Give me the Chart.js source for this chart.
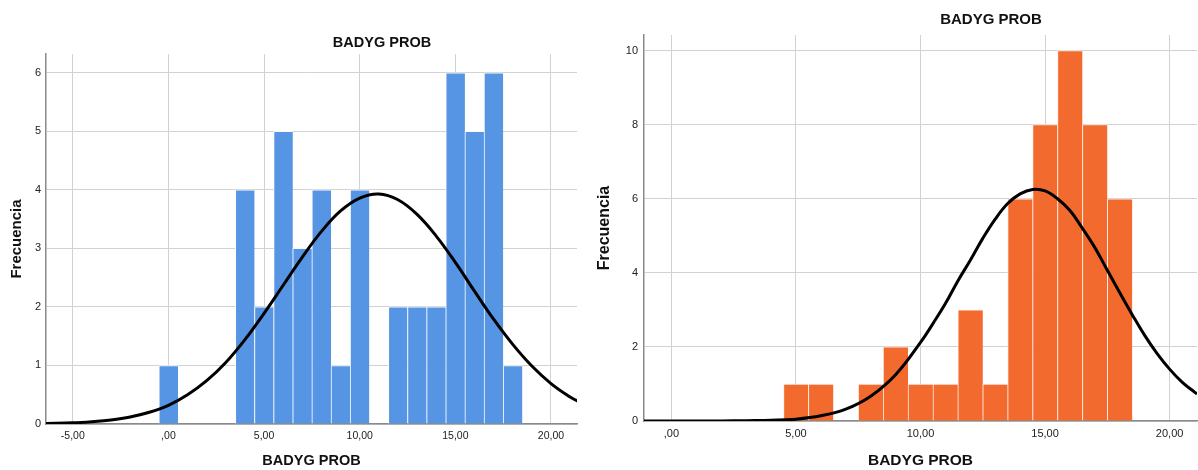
<!DOCTYPE html>
<html>
<head>
<meta charset="utf-8">
<script src="https://cdn.jsdelivr.net/npm/chart.js@4.4.1/dist/chart.umd.min.js"></script>
<style>
html, body { margin: 0; padding: 0; background: #fff; }
#lienzo { position: relative; width: 1198px; height: 470px; overflow: hidden; font-family: "Liberation Sans", Arial, sans-serif; }
#lienzo canvas { position: absolute; top: 0; }
.titulo { position: absolute; transform: translate(-50%, -50%); font-weight: bold; color: #111; white-space: nowrap; line-height: 1; }
</style>
</head>
<body>
<div id="lienzo">
    <canvas id="graficoIzq" width="598" height="470" style="left:0"></canvas>
    <canvas id="graficoDer" width="608" height="470" style="left:590px"></canvas>
    <div class="titulo" id="tituloIzq" style="left:382px;top:42px;font-size:14.5px"></div>
    <div class="titulo" id="tituloDer" style="left:991px;top:18px;font-size:15px"></div>
</div>
<script>
const tituloGrafico = 'BADYG PROB';
const tituloX = 'BADYG PROB';
const tituloY = 'Frecuencia';

// Histograma izquierdo (azul)
const izqIntervalos = [0, 4, 5, 6, 7, 8, 9, 10, 12, 13, 14, 15, 16, 17, 18];
const izqFrecuencias = [1, 4, 2, 5, 3, 4, 1, 4, 2, 2, 2, 6, 5, 6, 1];
const izqCurvaX = [-6.4, -5, -4, -3, -2, -1, 0, 1, 2, 3, 4, 5, 6, 7, 8, 9, 10, 11, 12, 13, 14, 15, 16, 17, 18, 19, 20, 21, 21.4];
const izqCurvaY = [0.01, 0.02, 0.04, 0.07, 0.12, 0.2, 0.32, 0.5, 0.74, 1.05, 1.44, 1.89, 2.37, 2.85, 3.29, 3.64, 3.86, 3.93, 3.83, 3.58, 3.21, 2.76, 2.27, 1.79, 1.36, 0.99, 0.69, 0.46, 0.39];
const izqTicksX = [-5, 0, 5, 10, 15, 20];
const izqEtiquetasX = ['-5,00', ',00', '5,00', '10,00', '15,00', '20,00'];
const izqTicksY = [0, 1, 2, 3, 4, 5, 6];
const izqEtiquetasY = ['0', '1', '2', '3', '4', '5', '6'];

// Histograma derecho (naranja)
const derIntervalos = [5, 6, 8, 9, 10, 11, 12, 13, 14, 15, 16, 17, 18];
const derFrecuencias = [1, 1, 1, 2, 1, 1, 3, 1, 6, 8, 10, 8, 6];
const derCurvaX = [-1.1, 0, 1, 2, 3, 4, 5, 6, 7, 8, 9, 10, 10.5, 11, 11.5, 12, 12.5, 13, 13.5, 14, 14.5, 15, 15.5, 16, 16.5, 17, 17.5, 18, 18.5, 19, 19.5, 20, 20.5, 21, 21.1];
const derCurvaY = [0, 0, 0, 0, 0.01, 0.02, 0.05, 0.14, 0.32, 0.67, 1.25, 2.12, 2.63, 3.17, 3.78, 4.34, 4.93, 5.45, 5.87, 6.13, 6.25, 6.21, 6.0, 5.68, 5.2, 4.68, 4.07, 3.46, 2.87, 2.31, 1.82, 1.4, 1.05, 0.78, 0.73];
const derTicksX = [0, 5, 10, 15, 20];
const derEtiquetasX = [',00', '5,00', '10,00', '15,00', '20,00'];
const derTicksY = [0, 2, 4, 6, 8, 10];
const derEtiquetasY = ['0', '2', '4', '6', '8', '10'];

function crearHistograma(id, d) {
    const ctx = document.getElementById(id).getContext('2d');
    return new Chart(ctx, {
        type: 'bar',
        data: {
            datasets: [
                {
                    type: 'line',
                    data: d.curvaX.map((x, i) => ({ x: x, y: d.curvaY[i] })),
                    borderColor: '#000',
                    borderWidth: 3,
                    pointRadius: 0,
                    tension: 0.4,
                    fill: false,
                    order: 0
                },
                {
                    type: 'bar',
                    data: d.intervalos.map((x, i) => ({ x: x, y: d.frecuencias[i] })),
                    backgroundColor: d.color,
                    borderColor: d.borde,
                    borderWidth: { top: 1, left: 1, right: 0, bottom: 0 },
                    borderSkipped: false,
                    barPercentage: 1,
                    categoryPercentage: 1,
                    order: 1
                }
            ]
        },
        options: {
            responsive: false,
            animation: false,
            events: [],
            layout: { padding: { top: d.arriba, right: d.derecha, left: 0, bottom: 0 } },
            plugins: { legend: { display: false }, tooltip: { enabled: false } },
            scales: {
                x: {
                    type: 'linear',
                    min: d.minX,
                    max: d.maxX,
                    offset: false,
                    grid: { offset: false, color: '#d2d2d2', lineWidth: 1, drawTicks: false },
                    border: { color: '#8a8a8a', width: 1.5 },
                    afterBuildTicks: s => { s.ticks = d.ticksX.map(v => ({ value: v })); },
                    ticks: {
                        autoSkip: false, maxRotation: 0, padding: 6, color: '#222',
                        font: { family: '"Liberation Sans", Arial', size: d.fuenteX },
                        callback: (v, i) => d.etiquetasX[i]
                    },
                    title: {
                        display: true, text: tituloX, color: '#111',
                        font: { family: '"Liberation Sans", Arial', size: d.fuenteTitulo, weight: 'bold' },
                        padding: { top: 0, bottom: 0 }
                    },
                    afterFit: s => { s.height = d.altoX; }
                },
                y: {
                    min: 0,
                    max: d.maxY,
                    grid: { color: '#d2d2d2', lineWidth: 1, drawTicks: false },
                    border: { color: '#8a8a8a', width: 1.5 },
                    afterBuildTicks: s => { s.ticks = d.ticksY.map(v => ({ value: v })); },
                    ticks: {
                        autoSkip: false, padding: d.separacionY, color: '#222',
                        font: { family: '"Liberation Sans", Arial', size: 11 },
                        callback: (v, i) => d.etiquetasY[i]
                    },
                    title: {
                        display: true, text: tituloY, color: '#111',
                        font: { family: '"Liberation Sans", Arial', size: d.fuenteTituloY, weight: 'bold' },
                        padding: { top: d.margenTituloY, bottom: 0 }
                    },
                    afterFit: s => { s.width = d.anchoY; }
                }
            }
        }
    });
}

document.getElementById('tituloIzq').textContent = tituloGrafico;
document.getElementById('tituloDer').textContent = tituloGrafico;

crearHistograma('graficoIzq', {
    intervalos: izqIntervalos, frecuencias: izqFrecuencias,
    curvaX: izqCurvaX, curvaY: izqCurvaY,
    ticksX: izqTicksX, etiquetasX: izqEtiquetasX,
    ticksY: izqTicksY, etiquetasY: izqEtiquetasY,
    color: '#5595e4', borde: 'rgba(255,255,255,0.85)',
    minX: -6.4, maxX: 21.36, maxY: 6.32,
    arriba: 54, derecha: 21, altoX: 46, anchoY: 46,
    fuenteX: 10.5, fuenteTitulo: 14.5, fuenteTituloY: 15, margenTituloY: 8, separacionY: 5
});

crearHistograma('graficoDer', {
    intervalos: derIntervalos, frecuencias: derFrecuencias,
    curvaX: derCurvaX, curvaY: derCurvaY,
    ticksX: derTicksX, etiquetasX: derEtiquetasX,
    ticksY: derTicksY, etiquetasY: derEtiquetasY,
    color: '#f26a2d', borde: 'rgba(255,235,225,0.9)',
    minX: -1.1, maxX: 21.1, maxY: 10.42,
    arriba: 35, derecha: 1, altoX: 49, anchoY: 54,
    fuenteX: 11, fuenteTitulo: 15.5, fuenteTituloY: 16, margenTituloY: 5, separacionY: 6
});
</script>
</body>
</html>
